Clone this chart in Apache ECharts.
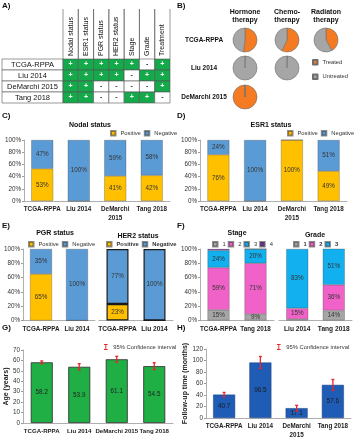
<!DOCTYPE html>
<html>
<head>
<meta charset="utf-8">
<script src="https://cdn.jsdelivr.net/npm/echarts@6/dist/echarts.min.js"></script>
<style>
html, body { margin: 0; padding: 0; background: #fff; }
#chart { width: 355px; height: 440px; }
</style>
</head>
<body>
<div id="chart"></div>
<script>
// panel A - study table
const tableCols = ['Nodal status', 'ESR1 status', 'PGR status', 'HER2 status', 'Stage', 'Grade', 'Treatment'];
const tableRows = ['TCGA-RPPA', 'Liu 2014', 'DeMarchi 2015', 'Tang 2018'];
const tableMarks = [
    ['+', '+', '+', '+', '+', '-', '+'],
    ['+', '+', '+', '+', '-', '+', '+'],
    ['+', '+', '-', '-', '-', '-', '+'],
    ['+', '+', '-', '-', '+', '+', '-']
];
// panel B - treatment pies (% treated, null = no data)
const pieCohorts = ['TCGA-RPPA', 'Liu 2014', 'DeMarchi 2015'];
const pieTherapies = ['Hormone\ntherapy', 'Chemo-\ntherapy', 'Radiaton\ntherapy'];
const treatedPct = [
    [52, 57, 42],
    [0.5, 0.5, null],
    [99.5, null, null]
];
// panels C, D
const studies4 = ['TCGA-RPPA', 'Liu 2014', 'DeMarchi\n2015', 'Tang 2018'];
const nodalPos = [53, 0, 41, 42];
const nodalNeg = [47, 100, 59, 58];
const esr1Pos = [76, 0, 100, 49];
const esr1Neg = [24, 100, 0, 51];
// panel E
const pgrStudies = ['TCGA-RPPA', 'Liu 2014'];
const pgrPos = [65, 0];
const pgrNeg = [35, 100];
const her2Studies = ['TCGA-RPPA', 'Liu 2014'];
const her2Pos = [23, 0];
const her2Neg = [77, 100];
// panel F
const stageStudies = ['TCGA-RPPA', 'Tang 2018'];
const stage1 = [15, 9];
const stage2 = [59, 71];
const stage3 = [24, 20];
const stage4 = [2, 0];
const gradeStudies = ['Liu 2014', 'Tang 2018'];
const grade1 = [2, 14];
const grade2 = [15, 36];
const grade3 = [83, 51];
// panel G - age
const ageStudies = ['TCGA-RPPA', 'Liu 2014', 'DeMarchi 2015', 'Tang 2018'];
const ageMean = [58.2, 53.9, 61.1, 54.5];
const ageLow = [56.9, 50.9, 58.3, 51.2];
const ageHigh = [59.5, 56.9, 63.9, 57.8];
// panel H - follow-up
const fuStudies = ['TCGA-RPPA', 'Liu 2014', 'DeMarchi\n2015', 'Tang 2018'];
const fuMean = [40.7, 96.5, 17.1, 57.6];
const fuLow = [37, 86, 12, 48];
const fuHigh = [44.5, 107, 22, 67];

const FONT = '"Liberation Sans", Arial, sans-serif';
const C_POS = '#FFC000', C_NEG = '#5B9BD5';
const C_S1 = '#A6A6A6', C_S2 = '#F062C8', C_S3 = '#12B0EE', C_S4 = '#7030A0';
const C_TREAT = '#F47B22', C_UNTREAT = '#A6A6A6';
const C_GREEN = '#14A94A', C_ERR = '#E8262B';

const chart = echarts.init(document.getElementById('chart'));

// ---- grids ----
const grids = [
    { left: 63, top: 9, width: 107, height: 50 },     // 0 A header
    { left: 2, top: 59, width: 61, height: 44 },      // 1 A row labels
    { left: 63, top: 59, width: 107, height: 44 },    // 2 A cells
    { left: 24, top: 140, width: 146, height: 61 },   // 3 C
    { left: 200, top: 140, width: 147, height: 61 },  // 4 D
    { left: 23, top: 249, width: 72, height: 71.5 },  // 5 E pgr
    { left: 99, top: 249, width: 74, height: 71.5 },  // 6 E her2
    { left: 200, top: 249, width: 74, height: 71.5 }, // 7 F stage
    { left: 279, top: 249, width: 73, height: 71.5 }, // 8 F grade
    { left: 23, top: 350, width: 150, height: 73 },   // 9 G
    { left: 206, top: 349, width: 145, height: 73 }   // 10 H
];

const catAxis = (gi, data, bold, size) => ({
    type: 'category', gridIndex: gi, data: data,
    axisLine: { show: true, lineStyle: { color: '#9a9a9a', width: 0.8 } },
    axisTick: { show: false },
    axisLabel: { interval: 0, fontSize: size || 6.3, fontWeight: bold || 'bold', color: '#222', fontFamily: FONT, margin: 4, lineHeight: 9 }
});
const pctAxis = (gi, labels) => ({
    type: 'value', gridIndex: gi, min: 0, max: 100, interval: 20,
    axisLine: { show: labels, lineStyle: { color: '#9a9a9a', width: 0.8 } },
    axisTick: { show: labels, length: 2, lineStyle: { color: '#9a9a9a' } },
    splitLine: { show: false },
    axisLabel: { show: labels, formatter: '{value}%', fontSize: 6.3, color: '#333', fontFamily: FONT, margin: 3 }
});
const numAxis = (gi, max, step, name, gap) => ({
    type: 'value', gridIndex: gi, min: 0, max: max, interval: step,
    name: name, nameLocation: 'middle', nameGap: gap,
    nameTextStyle: { fontSize: 7, fontWeight: 'bold', color: '#222', fontFamily: FONT },
    axisLine: { show: true, lineStyle: { color: '#9a9a9a', width: 0.8 } },
    axisTick: { show: true, length: 2, lineStyle: { color: '#9a9a9a' } },
    splitLine: { show: false },
    axisLabel: { fontSize: 6.3, color: '#333', fontFamily: FONT, margin: 3 }
});

const xAxes = [
    { type: 'category', gridIndex: 0, data: tableCols, show: false },
    { type: 'category', gridIndex: 1, data: [''], show: false },
    { type: 'category', gridIndex: 2, data: tableCols, show: false },
    catAxis(3, studies4),
    catAxis(4, studies4),
    catAxis(5, pgrStudies),
    catAxis(6, her2Studies, 900, 6.6),
    catAxis(7, stageStudies),
    catAxis(8, gradeStudies, 900, 6.6),
    catAxis(9, ageStudies, 'bold', 6.1),
    catAxis(10, fuStudies)
];
const yAxes = [
    { type: 'category', gridIndex: 0, data: [''], show: false },
    { type: 'category', gridIndex: 1, data: tableRows, inverse: true, show: false },
    { type: 'category', gridIndex: 2, data: tableRows, inverse: true, show: false },
    pctAxis(3, true),
    pctAxis(4, true),
    pctAxis(5, true),
    pctAxis(6, false),
    pctAxis(7, true),
    pctAxis(8, false),
    numAxis(9, 70, 10, 'Age (years)', 12),
    numAxis(10, 120, 20, 'Follow-up time (months)', 16)
];

// ---- table (panel A) ----
const cellData = [];
tableRows.forEach((r, ri) => tableCols.forEach((c, ci) => cellData.push([ci, ri, tableMarks[ri][ci]])));
const cellBox = (api, x, y) => {
    const p = api.coord([x, y]);
    const s = api.size([1, 1]);
    return { x: p[0] - s[0] / 2, y: p[1] - s[1] / 2, w: s[0], h: s[1], cx: p[0], cy: p[1] };
};
const tableSeries = [
    {
        type: 'custom', xAxisIndex: 0, yAxisIndex: 0, silent: true,
        data: tableCols.map((c, i) => [i, 0]),
        renderItem: (params, api) => {
            const b = cellBox(api, api.value(0), 0);
            const ln = { stroke: '#555', lineWidth: 0.6 };
            return { type: 'group', children: [
                { type: 'line', shape: { x1: b.x, y1: b.y, x2: b.x, y2: b.y + b.h }, style: ln },
                { type: 'line', shape: { x1: b.x + b.w, y1: b.y, x2: b.x + b.w, y2: b.y + b.h }, style: ln },
                { type: 'text', x: b.cx, y: b.y + b.h - 3, rotation: Math.PI / 2,
                  style: { text: tableCols[params.dataIndex], fill: '#111', fontSize: 7, fontFamily: FONT, align: 'left', verticalAlign: 'middle' } }
            ] };
        }
    },
    {
        type: 'custom', xAxisIndex: 1, yAxisIndex: 1, silent: true,
        data: tableRows.map((r, i) => [0, i]),
        renderItem: (params, api) => {
            const b = cellBox(api, 0, api.value(1));
            return { type: 'group', children: [
                { type: 'rect', shape: { x: b.x, y: b.y, width: b.w, height: b.h }, style: { fill: '#fff', stroke: '#555', lineWidth: 0.6 } },
                { type: 'text', x: b.cx, y: b.cy, style: { text: tableRows[params.dataIndex], fill: '#111', fontSize: 7.5, fontFamily: FONT, align: 'center', verticalAlign: 'middle' } }
            ] };
        }
    },
    {
        type: 'custom', xAxisIndex: 2, yAxisIndex: 2, silent: true,
        data: cellData,
        renderItem: (params, api) => {
            const b = cellBox(api, api.value(0), api.value(1));
            const m = cellData[params.dataIndex][2];
            return { type: 'group', children: [
                { type: 'rect', shape: { x: b.x, y: b.y, width: b.w, height: b.h }, style: { fill: m === '+' ? C_GREEN : '#fff', stroke: '#555', lineWidth: 0.6 } },
                { type: 'text', x: b.cx, y: b.cy, style: { text: m, fill: m === '+' ? '#fff' : '#333', fontSize: 7, fontWeight: 'bold', fontFamily: FONT, align: 'center', verticalAlign: 'middle' } }
            ] };
        }
    }
];

// ---- pies (panel B) ----
const pieX = [245, 287, 326];
const pieY = [40, 68, 97];
const pieSeries = [];
treatedPct.forEach((row, ri) => row.forEach((v, ci) => {
    if (v === null) return;
    pieSeries.push({
        type: 'pie', center: [pieX[ci], pieY[ri]], radius: 12, startAngle: 90, clockwise: true,
        silent: true, label: { show: false }, labelLine: { show: false }, animation: false,
        itemStyle: { borderColor: '#6e6e6e', borderWidth: 0.6 },
        data: [
            { name: 'Treated', value: v, itemStyle: { color: C_TREAT } },
            { name: 'Untreated', value: 100 - v, itemStyle: { color: C_UNTREAT } }
        ]
    });
}));

// ---- stacked percent bars ----
const pctLabel = () => ({
    show: true, position: 'inside', fontSize: 6.3, color: '#333', fontFamily: FONT,
    formatter: p => (p.value >= 5 ? p.value + '%' : '')
});
const pctBar = (name, data, color, gi, stack, border) => ({
    name: name, type: 'bar', stack: stack, xAxisIndex: gi, yAxisIndex: gi, data: data,
    barWidth: 22, label: pctLabel(),
    itemStyle: { color: color, borderColor: border || 'rgba(50,50,50,0.55)', borderWidth: border ? 1.2 : 0.5 }
});

const barSeries = [
    pctBar('Positive', nodalPos, C_POS, 3, 'c'),
    pctBar('Negative', nodalNeg, C_NEG, 3, 'c'),
    pctBar('Positive', esr1Pos, C_POS, 4, 'd'),
    pctBar('Negative', esr1Neg, C_NEG, 4, 'd'),
    pctBar('Positive', pgrPos, C_POS, 5, 'e1'),
    pctBar('Negative', pgrNeg, C_NEG, 5, 'e1'),
    pctBar('Positive', her2Pos, C_POS, 6, 'e2', '#1a1a1a'),
    pctBar('Negative', her2Neg, C_NEG, 6, 'e2', '#1a1a1a'),
    pctBar('1', stage1, C_S1, 7, 'f1'),
    pctBar('2', stage2, C_S2, 7, 'f1'),
    pctBar('3', stage3, C_S3, 7, 'f1'),
    pctBar('4', stage4, C_S4, 7, 'f1'),
    pctBar('1', grade1, C_S1, 8, 'f2'),
    pctBar('2', grade2, C_S2, 8, 'f2'),
    pctBar('3', grade3, C_S3, 8, 'f2')
];

// ---- mean bars with CI (panels G, H) ----
const errBar = (params, api) => {
    const x = api.value(0);
    const lo = api.coord([x, api.value(1)]);
    const hi = api.coord([x, api.value(2)]);
    const st = { stroke: C_ERR, lineWidth: 1.3 };
    return { type: 'group', children: [
        { type: 'line', shape: { x1: lo[0], y1: lo[1], x2: hi[0], y2: hi[1] }, style: st },
        { type: 'line', shape: { x1: lo[0] - 1.5, y1: lo[1], x2: lo[0] + 1.5, y2: lo[1] }, style: st },
        { type: 'line', shape: { x1: hi[0] - 1.5, y1: hi[1], x2: hi[0] + 1.5, y2: hi[1] }, style: st }
    ] };
};
const meanSeries = [
    {
        name: 'Age', type: 'bar', xAxisIndex: 9, yAxisIndex: 9, data: ageMean, barWidth: 22,
        itemStyle: { color: '#1FAF45', borderColor: '#2b2b2b', borderWidth: 0.8 },
        label: { show: true, position: 'inside', fontSize: 6.3, color: '#222', fontFamily: FONT }
    },
    {
        name: '95% Confidence interval', type: 'custom', xAxisIndex: 9, yAxisIndex: 9, z: 5,
        itemStyle: { color: C_ERR }, encode: { x: 0, y: [1, 2] },
        data: ageMean.map((m, i) => [i, ageLow[i], ageHigh[i]]), renderItem: errBar
    },
    {
        name: 'Follow-up', type: 'bar', xAxisIndex: 10, yAxisIndex: 10, data: fuMean, barWidth: 22,
        itemStyle: { color: '#1F5CB6', borderColor: '#1b3f7a', borderWidth: 0.5 },
        label: { show: true, position: 'inside', fontSize: 6.3, color: '#1a1a1a', fontFamily: FONT }
    },
    {
        name: '95% Confidence interval', type: 'custom', xAxisIndex: 10, yAxisIndex: 10, z: 5,
        itemStyle: { color: C_ERR }, encode: { x: 0, y: [1, 2] },
        data: fuMean.map((m, i) => [i, fuLow[i], fuHigh[i]]), renderItem: errBar
    }
];

// ---- legends ----
const lg = (data, left, top, bold, extra) => Object.assign({
    data: data, left: left, top: top, width: 120, icon: 'rect', itemWidth: 4.5, itemHeight: 4.5, itemGap: 3,
    padding: 0, selectedMode: false,
    textStyle: { fontSize: 5.8, color: '#333', fontFamily: FONT, fontWeight: bold ? 900 : 'normal' }
}, extra || {});
const ciIcon = 'path://M2,0H8V1.5H5.8V8.5H8V10H2V8.5H4.2V1.5H2Z';
const legends = [
    lg(['Treated', 'Untreated'], 312, 59, false, { orient: 'vertical', itemGap: 8 }),
    lg(['Positive', 'Negative'], 110, 130),
    lg(['Positive', 'Negative'], 287, 130),
    lg(['Positive', 'Negative'], 28, 241),
    lg(['Positive', 'Negative'], 106, 241, true),
    lg(['1', '2', '3', '4'], 212, 241, false, { itemGap: 2 }),
    lg(['1', '2', '3'], 293, 241, true, { itemGap: 2 }),
    lg(['95% Confidence interval'], 104, 344, false, { icon: ciIcon, itemWidth: 5, itemHeight: 6 }),
    lg(['95% Confidence interval'], 277, 344, false, { icon: ciIcon, itemWidth: 5, itemHeight: 6 })
];

// ---- static texts ----
const txt = (text, x, y, size, weight, align) => ({
    type: 'text', x: x, y: y, silent: true,
    style: { text: text, fontSize: size, fontWeight: weight || 'bold', fontFamily: FONT, fill: '#111', align: align || 'center', verticalAlign: 'middle', lineHeight: size + 1 }
});
const texts = [
    txt('A)', 2, 6, 8, 'bold', 'left'),
    txt('B)', 177, 6, 8, 'bold', 'left'),
    txt('C)', 2, 116, 8, 'bold', 'left'),
    txt('D)', 177, 116, 8, 'bold', 'left'),
    txt('E)', 2, 226, 8, 'bold', 'left'),
    txt('F)', 177, 226, 8, 'bold', 'left'),
    txt('G)', 2, 328, 8, 'bold', 'left'),
    txt('H)', 177, 328, 8, 'bold', 'left'),
    txt('Nodal status', 90, 125, 7),
    txt('ESR1 status', 271, 125, 7),
    txt('PGR status', 55, 233, 7),
    txt('HER2 status', 138, 236, 7, 900),
    txt('Stage', 237, 233, 7),
    txt('Grade', 315, 235, 7, 900)
];
pieTherapies.forEach((t, i) => texts.push(txt(t, pieX[i], 16, 7)));
pieCohorts.forEach((t, i) => texts.push(txt(t, 204, pieY[i], 6.5)));

chart.setOption({
    animation: false,
    textStyle: { fontFamily: FONT },
    grid: grids,
    xAxis: xAxes,
    yAxis: yAxes,
    legend: legends,
    graphic: { elements: texts },
    series: [].concat(tableSeries, pieSeries, barSeries, meanSeries)
});
</script>
</body>
</html>
